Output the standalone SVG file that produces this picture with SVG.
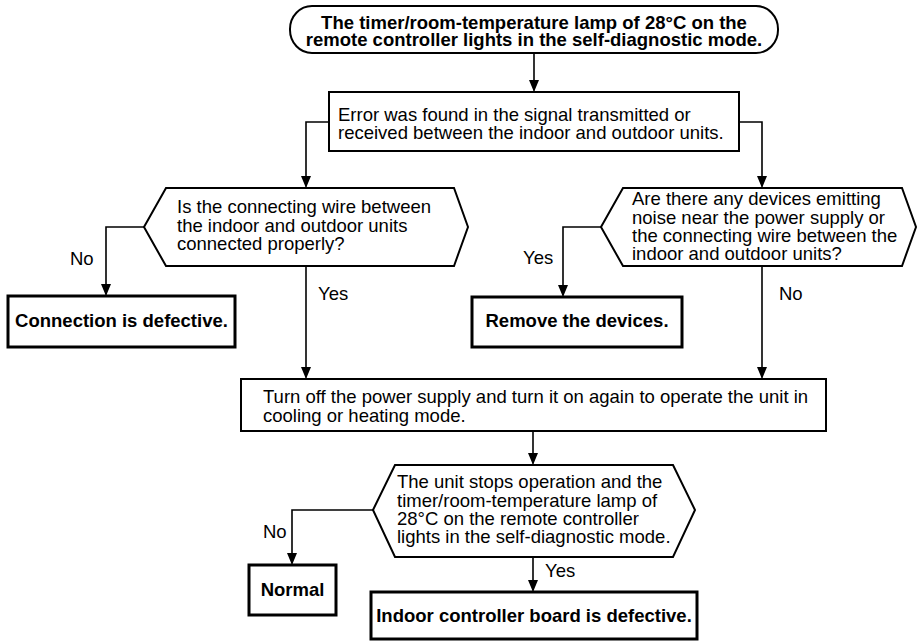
<svg xmlns="http://www.w3.org/2000/svg" width="918" height="642" viewBox="0 0 918 642">
<defs>
<style>
.t{font-family:"Liberation Sans",Arial,sans-serif;font-size:18.5px;fill:#000}
.b{font-weight:bold}
.box{fill:#fff;stroke:#000;stroke-width:2}
.bold{fill:#fff;stroke:#000;stroke-width:3}
.ln{fill:none;stroke:#000;stroke-width:1.6}
</style>
<marker id="ah" markerUnits="userSpaceOnUse" markerWidth="10" markerHeight="12" refX="12" refY="5" orient="auto">
<path d="M0,0 L12,5 L0,10 z" fill="#000"/>
</marker>
</defs>
<rect width="918" height="642" fill="#fff"/>
<g id="connectors">
<path class="ln" d="M534,53 V92" marker-end="url(#ah)"/>
<path class="ln" d="M329,122 H306 V188" marker-end="url(#ah)"/>
<path class="ln" d="M739,122 H762 V188" marker-end="url(#ah)"/>
<path class="ln" d="M144,227 H106 V296" marker-end="url(#ah)"/>
<path class="ln" d="M306,266 V379" marker-end="url(#ah)"/>
<path class="ln" d="M601,227 H563 V297" marker-end="url(#ah)"/>
<path class="ln" d="M762,266 V379" marker-end="url(#ah)"/>
<path class="ln" d="M533,431 V465" marker-end="url(#ah)"/>
<path class="ln" d="M373,510 H292 V565" marker-end="url(#ah)"/>
<path class="ln" d="M533,557 V592" marker-end="url(#ah)"/>
<text class="t" x="70" y="265">No</text>
<text class="t" x="318" y="300">Yes</text>
<text class="t" x="523" y="264">Yes</text>
<text class="t" x="779" y="300">No</text>
<text class="t" x="263" y="538">No</text>
<text class="t" x="545" y="577">Yes</text>
</g>
<g id="start">
<rect class="box" x="290" y="6" width="488" height="47" rx="22" ry="23"/>
<text class="t b" x="534" y="28.5" text-anchor="middle">The timer/room-temperature lamp of 28°C on the</text>
<text class="t b" x="534" y="45.5" text-anchor="middle">remote controller lights in the self-diagnostic mode.</text>
</g>
<g id="error">
<rect class="box" x="329" y="92" width="410" height="59"/>
<text class="t" x="338" y="120.5">Error was found in the signal transmitted or</text>
<text class="t" x="338" y="139">received between the indoor and outdoor units.</text>
</g>
<g id="q-wire">
<polygon class="box" points="144,227 166,188 454,188 468,227 454,266 166,266"/>
<text class="t" x="177" y="213">Is the connecting wire between</text>
<text class="t" x="177" y="231.5">the indoor and outdoor units</text>
<text class="t" x="177" y="250">connected properly?</text>
</g>
<g id="q-noise">
<polygon class="box" points="601,227 623,188 902,188 916,227 902,266 623,266"/>
<text class="t" x="632" y="205">Are there any devices emitting</text>
<text class="t" x="632" y="223.5">noise near the power supply or</text>
<text class="t" x="632" y="242">the connecting wire between the</text>
<text class="t" x="632" y="260">indoor and outdoor units?</text>
</g>
<g id="connection-defective">
<rect class="bold" x="8" y="296" width="227" height="51"/>
<text class="t b" x="121.5" y="327" text-anchor="middle">Connection is defective.</text>
</g>
<g id="remove-devices">
<rect class="bold" x="472" y="297" width="210" height="50"/>
<text class="t b" x="577" y="327" text-anchor="middle">Remove the devices.</text>
</g>
<g id="power-cycle">
<rect class="box" x="241" y="379" width="585" height="52"/>
<text class="t" x="263" y="403">Turn off the power supply and turn it on again to operate the unit in</text>
<text class="t" x="263" y="422">cooling or heating mode.</text>
</g>
<g id="q-stops">
<polygon class="box" points="373,510 395,465 673,465 695,510 673,557 395,557"/>
<text class="t" x="397" y="488">The unit stops operation and the</text>
<text class="t" x="397" y="506.5">timer/room-temperature lamp of</text>
<text class="t" x="397" y="525">28°C on the remote controller</text>
<text class="t" x="397" y="543">lights in the self-diagnostic mode.</text>
</g>
<g id="normal">
<rect class="bold" x="249" y="565" width="87" height="50"/>
<text class="t b" x="292.5" y="596" text-anchor="middle">Normal</text>
</g>
<g id="board-defective">
<rect class="bold" x="371" y="592" width="326" height="47"/>
<text class="t b" x="534" y="622" text-anchor="middle">Indoor controller board is defective.</text>
</g>
</svg>
